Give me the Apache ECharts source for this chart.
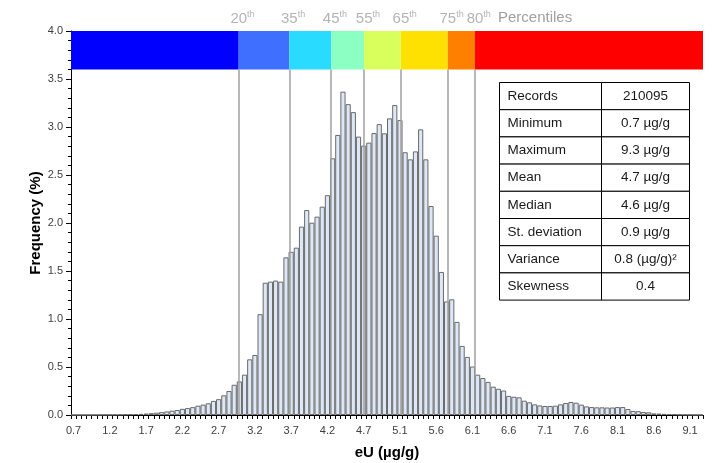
<!DOCTYPE html>
<html><head><meta charset="utf-8">
<script src="https://cdn.jsdelivr.net/npm/echarts@6/dist/echarts.min.js"></script>
<style>html,body{margin:0;padding:0;background:#fff}#c{width:712px;height:463px}</style>
</head><body><div id="c"></div>
<script>
// ---- data ----
const tickLabels = ['0.7','1.2','1.7','2.2','2.7','3.2','3.7','4.2','4.7','5.1','5.6','6.1','6.6','7.1','7.6','8.1','8.6','9.1'];
const binStart = 0.7;
const binWidth = 0.0706;
const frequency = [
  0.001,0.001,0.001,0.001,0.002,0.002,0.003,0.003,0.004,0.005,
  0.006,0.008,0.010,0.012,0.015,0.019,0.024,0.030,0.037,0.045,
  0.052,0.064,0.072,0.082,0.097,0.108,0.122,0.147,0.165,0.205,
  0.250,0.315,0.350,0.420,0.580,0.625,1.050,1.378,1.389,1.400,
  1.389,1.642,1.700,1.743,1.962,2.135,2.003,2.066,2.170,2.290,
  2.674,2.917,3.368,3.238,3.155,2.900,2.806,2.837,2.937,3.030,
  2.934,3.090,3.229,3.072,2.737,2.663,2.746,2.976,2.663,2.177,
  1.868,1.490,1.183,1.205,0.970,0.720,0.605,0.505,0.420,0.385,
  0.345,0.295,0.273,0.255,0.199,0.190,0.184,0.149,0.132,0.111,
  0.100,0.094,0.094,0.097,0.111,0.125,0.135,0.128,0.108,0.090,
  0.083,0.080,0.080,0.078,0.078,0.083,0.083,0.062,0.042,0.040,
  0.031,0.028,0.017,0.015,0.012,0.010,0.008,0.005,0.004,0.003,
  0.002,0.002
];
const percentileNames = ['20','35','45','55','65','75','80'];
const percentileValues = [2.95, 3.64, 4.21, 4.66, 5.16, 5.80, 6.17];
const bandColors = ['#0000ff','#3f6fff','#29dbff','#8cffc2','#d9ff5c','#ffe100','#ff8000','#ff0000'];
const statNames = ['Records','Minimum','Maximum','Mean','Median','St. deviation','Variance','Skewness'];
const statValues = ['210095','0.7 \u00b5g/g','9.3 \u00b5g/g','4.7 \u00b5g/g','4.6 \u00b5g/g','0.9 \u00b5g/g','0.8 (\u00b5g/g)\u00b2','0.4'];
const yMax = 4.0;
const bandBottom = 3.6;

// ---- build ----
const FONT = '"Liberation Sans", Arial, sans-serif';
const N = frequency.length;
const categories = frequency.map((_, i) => String(i));
const xMin = binStart - binWidth / 2;
const xMax = binStart + (N - 0.5) * binWidth;

const edges = [xMin].concat(percentileValues, [xMax]);
const bands = bandColors.map((c, k) => [
  { coord: [edges[k], bandBottom], itemStyle: { color: c, opacity: 1 } },
  { coord: [edges[k + 1], yMax] }
]);
const pLines = percentileValues.map(v => [{ coord: [v, 0] }, { coord: [v, bandBottom] }]);

// table graphic
const tLeft = 499.5, tTop = 82.5, w1 = 102, w2 = 88, rowH = 27.2;
const tableChildren = [];
statNames.forEach((nm, r) => {
  tableChildren.push({ type: 'rect', shape: { x: 0, y: r * rowH, width: w1, height: rowH },
    style: { fill: '#fff', stroke: '#000', lineWidth: 1 } });
  tableChildren.push({ type: 'rect', shape: { x: w1, y: r * rowH, width: w2, height: rowH },
    style: { fill: '#fff', stroke: '#000', lineWidth: 1 } });
  tableChildren.push({ type: 'text', x: 8, y: r * rowH + rowH / 2,
    style: { text: nm, font: '13.5px ' + FONT, fill: '#1a1a1a', textAlign: 'left', textVerticalAlign: 'middle' } });
  tableChildren.push({ type: 'text', x: w1 + w2 / 2, y: r * rowH + rowH / 2,
    style: { text: statValues[r], font: '13.5px ' + FONT, fill: '#1a1a1a', textAlign: 'center', textVerticalAlign: 'middle' } });
});

const chart = echarts.init(document.getElementById('c'), null, { renderer: 'canvas' });
chart.setOption({
  animation: false,
  backgroundColor: '#fff',
  textStyle: { fontFamily: FONT },
  grid: { left: 71, right: 9, top: 31, bottom: 48, containLabel: false, outerBoundsMode: 'none' },
  xAxis: [
    {
      type: 'category', data: categories, boundaryGap: true,
      name: 'eU (\u00b5g/g)', nameLocation: 'middle', nameGap: 30,
      nameTextStyle: { fontSize: 15, fontWeight: 'bold', color: '#000', fontFamily: FONT },
      axisLine: { lineStyle: { color: '#000', width: 1 } },
      axisTick: { show: true, interval: 0, length: 4, lineStyle: { color: '#000' } },
      axisLabel: { interval: 6, margin: 10, fontSize: 11, color: '#404040', fontFamily: FONT,
        formatter: (v, idx) => tickLabels[Math.round(idx / 7)] },
      splitLine: { show: false }
    },
    { type: 'value', min: xMin, max: xMax, show: false, gridIndex: 0 }
  ],
  yAxis: {
    type: 'value', min: 0, max: yMax, interval: 0.5,
    name: 'Frequency (%)', nameLocation: 'middle', nameGap: 28, nameRotate: 90, nameMoveOverlap: false,
    nameTextStyle: { fontSize: 15, fontWeight: 'bold', color: '#000', fontFamily: FONT },
    axisLine: { show: true, lineStyle: { color: '#000', width: 1 } },
    axisTick: { show: true, length: 5, lineStyle: { color: '#000' } },
    minorTick: { show: true, splitNumber: 5, length: 3, lineStyle: { color: '#000' } },
    axisLabel: { fontSize: 11, color: '#404040', margin: 8, fontFamily: FONT, formatter: v => v.toFixed(1) },
    splitLine: { show: false }
  },
  series: [
    {
      type: 'bar', data: frequency, barCategoryGap: '0%', barGap: '0%', z: 2,
      itemStyle: { color: '#dde7f5', borderColor: '#6a6a6a', borderWidth: 1 },
      silent: true
    },
    {
      type: 'scatter', xAxisIndex: 1, yAxisIndex: 0, z: 4, symbolSize: 0, silent: true,
      data: percentileValues.map(v => [v, yMax]),
      label: {
        show: true, position: 'top', distance: 4, offset: [3.8, 0],
        formatter: p => '{n|' + percentileNames[p.dataIndex] + '}{s|th}',
        rich: {
          n: { fontSize: 15, color: '#a0a0a0', fontFamily: FONT },
          s: { fontSize: 9, color: '#a0a0a0', fontFamily: FONT, verticalAlign: 'top', padding: [0, 0, 8, 0] }
        }
      },
      markArea: { silent: true, z: 1, data: bands },
      markLine: {
        silent: true, symbol: ['none', 'none'], z: 5,
        lineStyle: { color: '#a0a0a0', width: 1.5, type: 'solid' },
        label: { show: false },
        data: pLines
      }
    }
  ],
  graphic: [
    { type: 'text', left: 498, top: 10,
      style: { text: 'Percentiles', font: '15px ' + FONT, fill: '#a0a0a0' } },
    { type: 'group', x: tLeft, y: tTop, children: tableChildren }
  ]
});
</script>
</body></html>
